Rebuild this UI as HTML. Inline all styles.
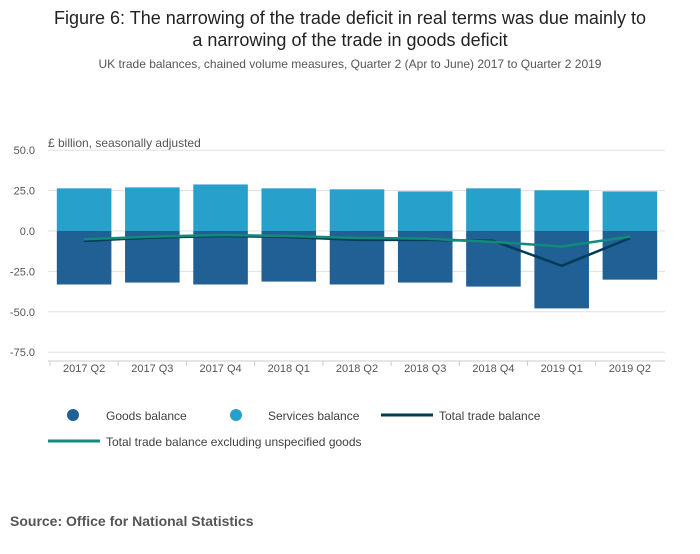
<!DOCTYPE html>
<html><head><meta charset="utf-8"><style>
body{margin:0;width:700px;height:549px;background:#fff;font-family:"Liberation Sans",sans-serif;overflow:hidden}
</style></head><body>
<svg width="700" height="549" id="svg" font-family="Liberation Sans, sans-serif">
<text x="350" y="24" text-anchor="middle" font-size="18" fill="#222">Figure 6: The narrowing of the trade deficit in real terms was due mainly to</text>
<text x="350" y="46" text-anchor="middle" font-size="18" fill="#222">a narrowing of the trade in goods deficit</text>
<text x="350" y="68" text-anchor="middle" font-size="12" fill="#555">UK trade balances, chained volume measures, Quarter 2 (Apr to June) 2017 to Quarter 2 2019</text>
<text x="48" y="147" font-size="12" fill="#555">£ billion, seasonally adjusted</text>
<g id="grid"></g><g id="bars"></g><g id="lines"></g><g id="axes"></g>
<g font-size="12" fill="#414042">
<circle cx="73" cy="415" r="6" fill="#206095"/>
<text x="106" y="420">Goods balance</text>
<circle cx="236" cy="415" r="6" fill="#27a0cc"/>
<text x="268" y="420">Services balance</text>
<line x1="381" y1="415" x2="433" y2="415" stroke="#003c57" stroke-width="3"/>
<text x="439" y="420">Total trade balance</text>
<line x1="48" y1="441" x2="100" y2="441" stroke="#118c7b" stroke-width="3"/>
<text x="106" y="446">Total trade balance excluding unspecified goods</text>
</g>
<text x="10" y="526" font-size="14" font-weight="bold" fill="#555">Source: Office for National Statistics</text>
</svg>
<script>
const categories=["2017 Q2","2017 Q3","2017 Q4","2018 Q1","2018 Q2","2018 Q3","2018 Q4","2019 Q1","2019 Q2"];
const services=[26.4,27.0,28.8,26.4,25.8,24.5,26.4,25.2,24.5];
const goods=[-33.1,-31.9,-33.1,-31.3,-33.1,-31.9,-34.4,-47.9,-30.1];
const total=[-6.1,-4.1,-3.1,-3.7,-5.5,-5.5,-6.1,-21.5,-4.5];
const totalExcl=[-5.1,-3.5,-2.5,-3.1,-4.3,-4.7,-6.7,-9.6,-3.5];
const yTicks=[50,25,0,-25,-50,-75];
const yTickLabels=["50.0","25.0","0.0","-25.0","-50.0","-75.0"];
const NS="http://www.w3.org/2000/svg";
const X0=50,X1=664,GX0=48,GX1=665,bw=(X1-X0)/categories.length;
const y=v=>231-v*1.616;
const xc=i=>X0+bw*(i+0.5);
function mk(tag,attrs,parent){const e=document.createElementNS(NS,tag);for(const k in attrs)e.setAttribute(k,attrs[k]);document.getElementById(parent).appendChild(e);return e;}
yTicks.forEach((t,i)=>{
 const l=mk('line',{x1:GX0,x2:GX1,y1:y(t),y2:y(t),stroke:'#e0e0e0'},'grid');
 
 
 const tx=mk('text',{x:35,y:y(t)+4,'text-anchor':'end','font-size':11,fill:'#555'},'axes');
 tx.textContent=yTickLabels[i];
 
 
});
const ax=mk('line',{x1:GX0,x2:GX1,y1:361,y2:361,stroke:'#ccc'},'axes');


categories.forEach((c,i)=>{
 const tk=mk('line',{x1:X0+bw*i,x2:X0+bw*i,y1:361,y2:366,stroke:'#ccc'},'axes');
 
 
 const tx=mk('text',{x:xc(i),y:372,'text-anchor':'middle','font-size':11,fill:'#555'},'axes');
 tx.textContent=c;
 
 
 const w=bw*0.8;
 const s=mk('rect',{x:xc(i)-w/2,y:y(services[i]),width:w,height:y(0)-y(services[i]),fill:'#27a0cc'},'bars');
 
 
 const g=mk('rect',{x:xc(i)-w/2,y:y(0),width:w,height:y(goods[i])-y(0),fill:'#206095'},'bars');
 
 
});
const tl=mk('polyline',{points:total.map((v,i)=>xc(i)+','+y(v)).join(' '),fill:'none',stroke:'#003c57','stroke-width':2.5},'lines');


const el=mk('polyline',{points:totalExcl.map((v,i)=>xc(i)+','+y(v)).join(' '),fill:'none',stroke:'#118c7b','stroke-width':2.5},'lines');


</script>
</body></html>
